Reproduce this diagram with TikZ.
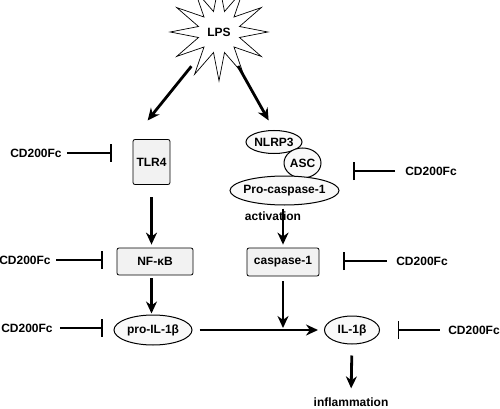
\documentclass[tikz,border=0pt]{standalone}
\usepackage{fontspec}
\setmainfont{Liberation Sans}
\usetikzlibrary{shapes.geometric, arrows.meta, positioning}

\tikzset{
  prot/.style={draw, rounded corners=2pt, fill=gray!10, line width=0.8pt},
  cplx/.style={draw, ellipse, fill=gray!5, line width=1pt, inner sep=0pt},
  lbl/.style={inner sep=1pt},
  act/.style={->, line width=2.8pt},
  inh/.style={-{Bar[width=18pt]}, line width=1.2pt},
}

\begin{document}
\begin{tikzpicture}[x=1pt, y=-1pt, >={Stealth[length=12pt,width=11pt]},
    font=\fontsize{12}{14}\selectfont\bfseries]
  \useasboundingbox (0,0) rectangle (500,409);

  \node[star, star points=12, star point ratio=2.3, minimum size=80pt,
        draw, fill=white, line width=0.7pt] (lps) at (219,32) {LPS};

  % left branch
  \node[prot, minimum width=37pt, minimum height=45pt] (tlr4) at (151.5,162) {TLR4};
  \node[prot, minimum width=76pt, minimum height=27pt] (nfkb) at (155,261.5) {NF-κB};
  \node[cplx, minimum width=78pt, minimum height=30pt] (proil) at (153,330) {pro-IL-1β};

  % right branch
  \node[cplx, minimum width=56pt, minimum height=23pt] (nlrp3) at (274,142) {NLRP3};
  \node[cplx, minimum width=37pt, minimum height=30pt] (asc) at (302.5,163) {ASC};
  \node[cplx, minimum width=107pt, minimum height=29pt, inner xsep=-2.5pt] (procasp) at (284.5,190.5) {Pro-caspase-1};
  \node[lbl] (actv) at (273,216) {activation};
  \node[prot, minimum width=72pt, minimum height=28pt] (casp) at (283,262) {caspase-1};
  \node[cplx, minimum width=55pt, minimum height=28pt] (il1b) at (352,330) {IL-1β};
  \node[lbl] (infl) at (351,402) {inflammation};

  % inhibitors
  \node[lbl] (cd1) at (36,153) {CD200Fc};
  \node[lbl] (cd2) at (25,260) {CD200Fc};
  \node[lbl] (cd3) at (27,328) {CD200Fc};
  \node[lbl] (cd4) at (431,171) {CD200Fc};
  \node[lbl] (cd5) at (422,261) {CD200Fc};
  \node[lbl] (cd6) at (474,330) {CD200Fc};

  \draw[act, shorten <=44pt, shorten >=24pt] (lps.center) -- (tlr4.north west);
  \draw[act, shorten <=39pt, shorten >=11pt] (lps.center) -- (nlrp3.north);
  \draw[act, shorten <=12.5pt, shorten >=3pt] (tlr4.south) -- (tlr4.south |- nfkb.north);
  \draw[act, shorten <=3pt, shorten >=1pt] (tlr4.south |- nfkb.south) -- (tlr4.south |- proil.north);
  \draw[act, shorten <=7pt, shorten >=6pt] (proil.east) -- (il1b.west);
  \draw[act, shorten <=3pt, shorten >=3pt] (casp.north |- procasp.south) -- (casp.north);
  \draw[act, shorten <=5pt, shorten >=2pt] (casp.south) -- (casp.south |- proil.east);
  \draw[act, shorten <=11pt, shorten >=8pt] (il1b.south) -- (infl.north);

  \draw[inh, shorten <=4pt, shorten >=21pt] (cd1.east) -- (cd1.east -| tlr4.west);
  \draw[inh, shorten <=4.5pt, shorten >=14pt] (cd2.east) -- (cd2.east -| nfkb.west);
  \draw[inh, shorten <=6pt, shorten >=11pt] (cd3.east) -- (cd3.east -| proil.west);
  \draw[inh, shorten <=9pt, shorten >=14pt] (cd4.west) -- (cd4.west -| procasp.east);
  \draw[inh, shorten <=8.5pt, shorten >=24pt] (cd5.west) -- (cd5.west -| casp.east);
  \draw[inh, shorten <=7.5pt, shorten >=17.5pt] (cd6.west) -- (cd6.west -| il1b.east);
\end{tikzpicture}
\end{document}
